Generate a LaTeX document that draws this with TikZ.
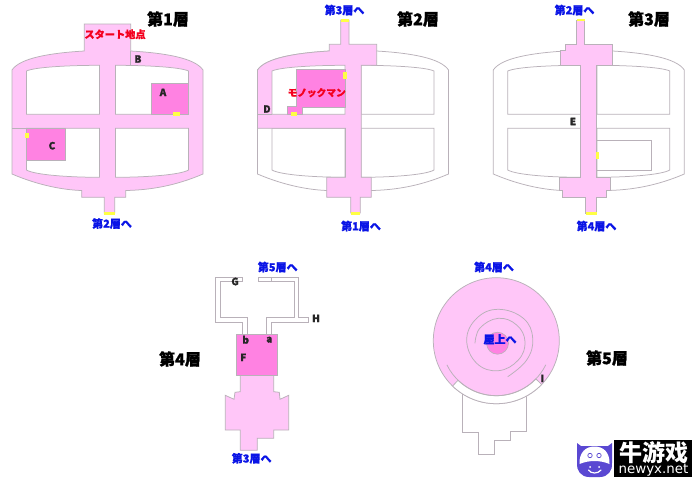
\documentclass[tikz,border=0pt]{standalone}
\usepackage{fontspec}
\newfontfamily\jpfont[BoldFeatures={FakeBold=1.2}]{Noto Sans CJK JP}
\newfontfamily\scfont{Noto Sans CJK SC}
\newfontfamily\sansfont{DejaVu Sans}
\definecolor{lightp}{HTML}{FFC6F8}
\definecolor{deepp}{HTML}{FF82E2}
\definecolor{wall}{HTML}{B9B1B9}
\definecolor{yel}{HTML}{FFFF44}
\definecolor{bluet}{HTML}{0A14E6}
\definecolor{redt}{HTML}{F4001E}
\definecolor{cow}{HTML}{5A48D2}
\tikzset{
  room/.style={fill=lightp,draw=wall,line width=.75pt,line join=miter},
  deeproom/.style={fill=deepp,draw=wall,line width=.75pt},
  hole/.style={fill=white,draw=wall,line width=.75pt},
  wallline/.style={draw=wall,line width=.75pt},
  mark yellow/.style={fill=yel,draw=none},
  floortitle/.style={font=\jpfont\bfseries\fontsize{16}{17}\selectfont,text=black,inner sep=0pt},
  stairlabel/.style={font=\jpfont\bfseries\fontsize{11}{12}\selectfont,text=bluet,inner sep=0pt},
  redlabel/.style={font=\jpfont\bfseries\fontsize{10.2}{11}\selectfont,text=redt,inner sep=0pt},
  letter/.style={font=\jpfont\bfseries\fontsize{10}{11}\selectfont,text=black!85,inner sep=0pt},
}
% skeleton paths in first-floor coordinates
\newcommand{\outerskel}{(12,70) .. controls (20,58) and (50,53) .. (84,51) -- (131,51)
  .. controls (165,53) and (195,58) .. (203,70) -- (203,174)
  .. controls (175,186) and (150,190) .. (125.7,190.5) -- (82,190.5)
  .. controls (65,190) and (40,186) .. (12,174) -- cycle}
\newcommand{\holeA}{(26.5,114.3) -- (26.5,71) .. controls (35,67) and (70,65.3) .. (99.5,65.3) -- (99.5,114.3) -- cycle}
\newcommand{\holeB}{(115.6,114.3) -- (115.6,65.3) .. controls (145,65.3) and (180,67) .. (188.5,71) -- (188.5,114.3) -- cycle}
\newcommand{\holeC}{(26.5,128.3) -- (99.5,128.3) -- (99.5,177.3) .. controls (70,177.3) and (35,175) .. (26.5,170) -- cycle}
\newcommand{\holeD}{(115.6,128.3) -- (188.5,128.3) -- (188.5,170) .. controls (180,175) and (145,177.3) .. (115.6,177.3) -- cycle}
\newcommand{\skeleton}{%
  \draw[hole] \outerskel;
  \draw[hole] \holeA; \draw[hole] \holeB; \draw[hole] \holeC; \draw[hole] \holeD;}
\begin{document}
\begin{tikzpicture}[x=1pt,y=-1pt]
\useasboundingbox (0,0) rectangle (700,485);
\fill[white] (0,0) rectangle (700,485);

% ---------- Floor 1
\draw[room] (84.3,24) -- (130.7,24) -- (130.7,51)
  .. controls (165,53) and (195,58) .. (203,70) -- (203,174)
  .. controls (175,186) and (150,190) .. (125.7,190.5) -- (125.7,197.3) -- (114.7,197.3) -- (114.7,213) -- (104.3,213) -- (104.3,197.3) -- (81.7,197.3) -- (81.7,190.5)
  .. controls (65,190) and (40,186) .. (12,174) -- (12,70)
  .. controls (20,58) and (50,53) .. (84.3,51) -- cycle;
\draw[hole] \holeA; \draw[hole] \holeB; \draw[hole] \holeC; \draw[hole] \holeD;
\draw[wallline] (12,128.3) -- (26.5,128.3);
\draw[wallline] (130.7,51) -- (130.7,65.3);
\draw[deeproom] (151.7,83) rectangle (188.5,114.3);
\draw[deeproom] (26.5,128.3) rectangle (65.7,160.5);
\fill[mark yellow] (173,112.3) rectangle (180,116);
\fill[mark yellow] (24.5,132.7) rectangle (29,138);
\fill[mark yellow] (104.3,212) rectangle (114.7,215);
\node[floortitle] (t1) at (168,19) {第1層};
\node[redlabel] (start) at (115,34.3) {スタート地点};
\node[letter] (A) at (163,92.3) {A};
\node[letter] (B) at (138,59) {B};
\node[letter] (C) at (52,145.7) {C};
\node[stairlabel] (s12) at (112,223.5) {第2層へ};

% ---------- Floor 2
\begin{scope}[shift={(245.5,0)}]
\skeleton
\end{scope}
\draw[room] (340.7,20) -- (349,20) -- (349,44.3) -- (376.7,44.3) -- (376.7,65.3) -- (361.3,65.3) -- (361.3,177.3) -- (371.3,177.3) -- (371.3,197.3) -- (360.3,197.3) -- (360.3,213) -- (350.7,213) -- (350.7,197.3) -- (326.7,197.3) -- (326.7,177.3) -- (345.5,177.3) -- (345.5,128.3) -- (257.5,128.3) -- (257.5,70)
  .. controls (265.5,58) and (295.5,53) .. (329.3,51) -- (329.3,44.3) -- (340.7,44.3) -- cycle;
\begin{scope}[shift={(245.5,0)}]
\draw[hole] \holeA;
\end{scope}
\draw[wallline] (257.5,114.3) -- (272,114.3);
\draw[deeproom] (296.3,69) -- (345.5,69) -- (345.5,107.3) -- (302.7,107.3) -- (302.7,114.3) -- (287.3,114.3) -- (287.3,106.3) -- (296.3,106.3) -- cycle;
\fill[mark yellow] (343.3,71.7) rectangle (347.3,79.3);
\fill[mark yellow] (291,112.3) rectangle (297,116);
\fill[mark yellow] (340.7,18.7) rectangle (349,21.7);
\fill[mark yellow] (350.7,212) rectangle (360.3,215);
\node[floortitle] (t2) at (418,19) {第2層};
\node[redlabel,font=\jpfont\bfseries\fontsize{9.7}{11}\selectfont] (mono) at (316.7,92.7) {モノックマン};
\node[letter] (D) at (267,109) {D};
\node[stairlabel] (s23) at (344.5,10) {第3層へ};
\node[stairlabel] (s21) at (361,226) {第1層へ};

% ---------- Floor 3
\begin{scope}[shift={(481.3,0)}]
\skeleton
\end{scope}
\draw[wallline] (596.7,140.3) -- (651.7,140.3) -- (651.7,170.7) -- (596.7,170.7);
\draw[room] (576.7,20) -- (584.7,20) -- (584.7,44.3) -- (612.7,44.3) -- (612.7,65.3) -- (596.7,65.3) -- (596.7,177.3) -- (610.3,177.3) -- (610.3,190.7) -- (606.7,190.7) -- (606.7,197.3) -- (596.7,197.3) -- (596.7,213) -- (585.7,213) -- (585.7,197.3) -- (562.7,197.3) -- (562.7,190.7) -- (559.3,190.7) -- (559.3,177.3) -- (580.7,177.3) -- (580.7,65.3) -- (560.3,65.3) -- (560.3,50.7) -- (565.3,50.7) -- (565.3,44.3) -- (576.7,44.3) -- cycle;
\fill[mark yellow] (596,152) rectangle (598.7,158.7);
\fill[mark yellow] (576.5,18.7) rectangle (584.7,21.3);
\fill[mark yellow] (585.7,212) rectangle (596.7,215);
\node[floortitle] (t3) at (649,19) {第3層};
\node[letter] (E) at (573,121.5) {E};
\node[stairlabel] (s32) at (574.5,10) {第2層へ};
\node[stairlabel] (s34) at (596.5,226) {第4層へ};

% ---------- Floor 4
\draw[wallline] (242.7,334.3) -- (242.7,322.7) -- (215.3,322.7) -- (215.3,277.3) -- (242.7,277.3) -- (242.7,281.3) -- (220.3,281.3) -- (220.3,317.3) -- (247.7,317.3) -- (247.7,334.3);
\draw[wallline] (266.3,334.3) -- (266.3,317.3) -- (294.3,317.3) -- (294.3,281.3) -- (258.3,281.3) -- (258.3,277.3) -- (298.3,277.3) -- (298.3,317.3) -- (308.3,317.3) -- (308.3,322.7) -- (271.3,322.7) -- (271.3,334.3);
\draw[wallline] (271.3,277.3) -- (271.3,281.3);
\draw[room] (240.3,375.3) -- (273.7,375.3) -- (273.7,391.7) -- (279.3,392.3) -- (280,399.3) -- (288.7,395.3) -- (288.7,430) -- (273.7,430) -- (273.7,438.3) -- (257.3,438.3) -- (257.3,450.3) -- (240.3,450.3) -- (240.3,430) -- (225.3,430) -- (225.3,395.3) -- (234,399.3) -- (235,392.3) -- (240.3,391.7) -- cycle;
\draw[deeproom] (236.3,334.3) rectangle (277.7,375.3);
\node[floortitle] (t4) at (180,359) {第4層};
\node[letter] (G) at (235,281.5) {G};
\node[letter] (Hl) at (316,318.3) {H};
\node[letter] (a) at (269.3,339.7) {a};
\node[letter] (b) at (245.7,339.7) {b};
\node[letter] (F) at (243.3,357.3) {F};
\node[stairlabel] (s45) at (277.7,267) {第5層へ};
\node[stairlabel] (s43) at (251.7,458.3) {第3層へ};

% ---------- Floor 5
\draw[wallline] (462.3,390) -- (462.3,432.3) -- (478.7,432.3) -- (478.7,454.7) -- (494.3,454.7) -- (494.3,440.3) -- (510.3,440.3) -- (510.3,431) -- (526.7,431) -- (526.7,390);
\draw[room] (496.3,340.7) circle[radius=63pt];
\draw[hole] (496.3,340.7) ++(-44:63pt) arc[start angle=-44,end angle=-134,radius=63pt] -- ++(46:8pt) arc[start angle=-134,end angle=-44,radius=55pt] -- cycle;
\draw[wallline] (496.3,340.7) ++(-154:55pt) arc[start angle=-154,end angle=-26,radius=55pt];
\fill[deepp,draw=wall,line width=.6pt] (497.5,343.2) circle[radius=11pt];
\draw[wallline] plot[smooth,tension=0.7] coordinates {(475,343.3) (480,328) (498.3,318.3) (516.7,325) (525,341.7) (518.3,360) (498.3,370.7) (476.7,363.3) (466.7,340) (476.7,318.3) (498.3,309.3) (523.3,318.3) (532.7,338.3) (526.7,360) (507.7,376.7)};
\node[floortitle] (t5) at (607,358) {第5層};
\node[stairlabel] (s54) at (494,267) {第4層へ};
\node[stairlabel] (roof) at (500,339.3) {屋上へ};
\node[letter] (I) at (542.3,378.3) {I};

% ---------- Logo
\fill[black] (614,440) rectangle (692,477);
\fill[cow] (577,443) -- (581,446) -- (608,446) -- (612,443) -- (612,463) .. controls (613,470) and (608,477) .. (600,477) -- (589,477) .. controls (581,477) and (576,470) .. (577,463) -- cycle;
\fill[white] (579.5,464) .. controls (579,452) and (586,446.5) .. (594.5,446.5) .. controls (603,446.5) and (610,452) .. (609.5,464) .. controls (600,460) and (589,460) .. (579.5,464) -- cycle;
\draw[cow,line width=.7pt] (590,455.5) circle[radius=2.2pt] (599,455.5) circle[radius=2.2pt];
\draw[white,line width=1.2pt,line cap=round] (588.5,470) .. controls (591,474) and (598,474) .. (601,470);
\fill[white] (590,467) circle[radius=1pt] (599,467) circle[radius=1pt];
\node[inner sep=0pt,text=white,font=\scfont\bfseries\fontsize{23}{24}\selectfont] (logotext) at (653.5,452.5) {牛游戏};
\node[inner sep=0pt,text=white,font=\sansfont\fontsize{13.4}{14}\selectfont] (logourl) at (653.5,470.5) {newyx.net};
\end{tikzpicture}
\end{document}
